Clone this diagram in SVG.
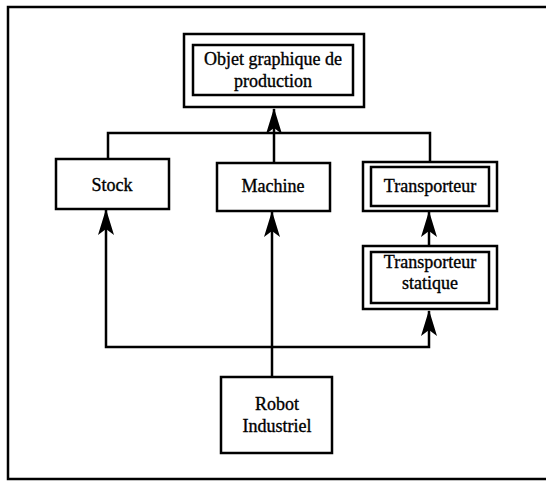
<svg xmlns="http://www.w3.org/2000/svg" width="546" height="481" viewBox="0 0 546 481">
  <defs>
    <style>
      .box { fill: #fff; stroke: #000; stroke-width: 2.5; }
      .wire { fill: none; stroke: #000; stroke-width: 2.5; }
      .lbl { font-family: "Liberation Serif", "Times New Roman", serif; font-size: 18px; fill: #000; stroke: #000; stroke-width: 0.35; text-anchor: middle; }
    </style>
    <!-- barbed arrowhead, tip at the path end -->
    <marker id="head" viewBox="0 0 26 18" refX="25" refY="9" markerWidth="26" markerHeight="18" markerUnits="userSpaceOnUse" orient="auto">
      <path d="M0,1 L26,9 L0,17 L6,9 Z" fill="#000"/>
    </marker>
  </defs>

  <rect width="546" height="481" fill="#fff"/>

  <!-- page frame, open on the right -->
  <path class="wire" d="M546,7 H8 V479 H546"/>

  <g id="connectors">
    <!-- generalisation to the production object -->
    <path class="wire" d="M108,159 V133 H430 V162"/>
    <path class="wire" d="M274,163 V109" marker-end="url(#head)"/>
    <!-- static transporter to transporter -->
    <path class="wire" d="M429,246 V212" marker-end="url(#head)"/>
    <!-- industrial robot links -->
    <path class="wire" d="M272,377 V212" marker-end="url(#head)"/>
    <path class="wire" d="M272,347 H106 V210" marker-end="url(#head)"/>
    <path class="wire" d="M272,347 H429 V311" marker-end="url(#head)"/>
  </g>

  <g id="objet-graphique">
    <rect class="box" x="184" y="34" width="180" height="73"/>
    <rect class="box" x="193" y="45" width="160" height="50"/>
    <text class="lbl" x="273" y="65">Objet graphique de</text>
    <text class="lbl" x="273" y="87">production</text>
  </g>

  <g id="stock">
    <rect class="box" x="56" y="159" width="113" height="50"/>
    <text class="lbl" x="112" y="191">Stock</text>
  </g>

  <g id="machine">
    <rect class="box" x="217" y="163" width="113" height="48"/>
    <text class="lbl" x="273" y="192">Machine</text>
  </g>

  <g id="transporteur">
    <rect class="box" x="363" y="162" width="134" height="49"/>
    <rect class="box" x="371" y="167" width="118" height="39"/>
    <text class="lbl" x="430" y="192">Transporteur</text>
  </g>

  <g id="transporteur-statique">
    <rect class="box" x="363" y="246" width="134" height="63"/>
    <rect class="box" x="371" y="252" width="118" height="51"/>
    <text class="lbl" x="430" y="268">Transporteur</text>
    <text class="lbl" x="430" y="289">statique</text>
  </g>

  <g id="robot-industriel">
    <rect class="box" x="221" y="377" width="111" height="76"/>
    <text class="lbl" x="277" y="410">Robot</text>
    <text class="lbl" x="277" y="432">Industriel</text>
  </g>
</svg>
